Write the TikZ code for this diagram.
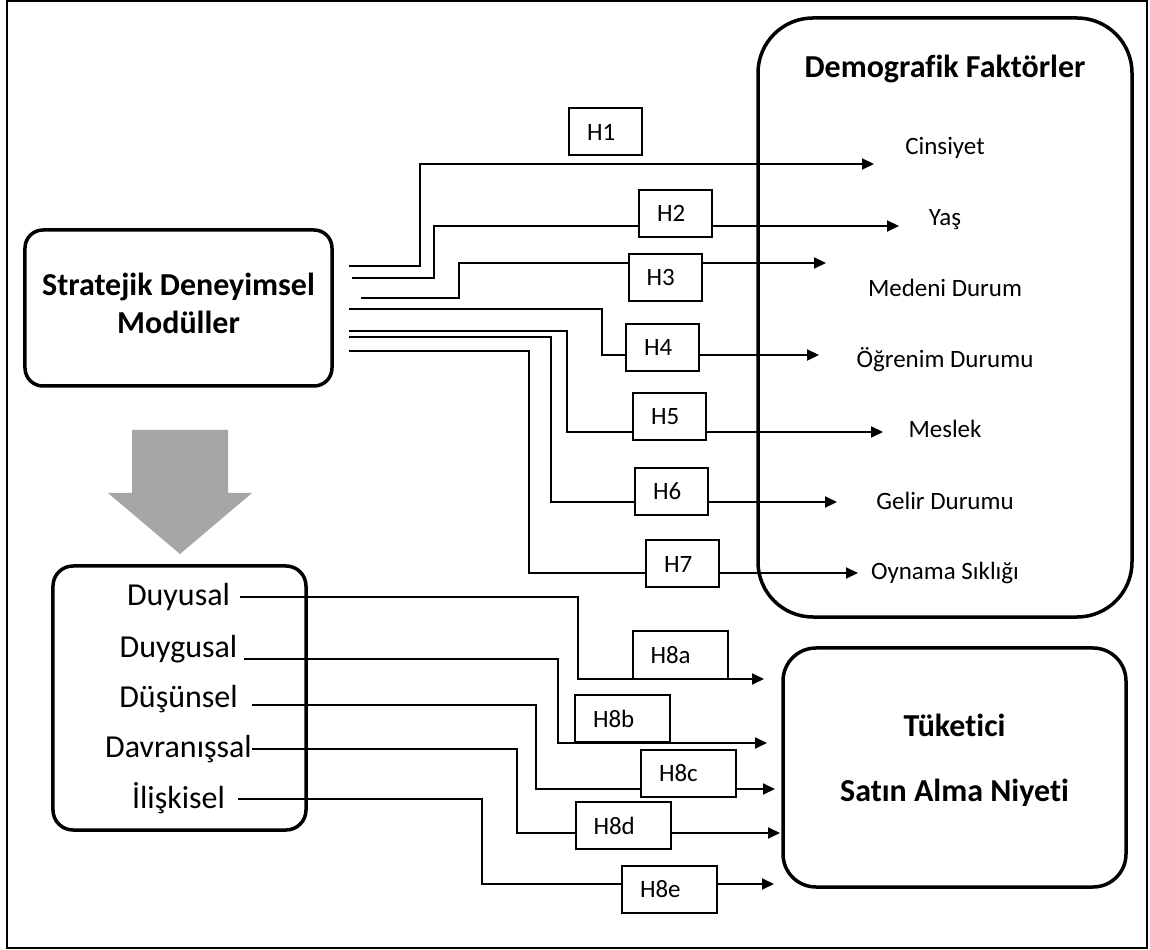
\documentclass[tikz,border=0pt]{standalone}
\usepackage{fontspec}
\setmainfont{Carlito}[Ligatures=NoCommon]
\usetikzlibrary{arrows.meta}

\definecolor{arrowgray}{HTML}{A6A6A6}

\tikzset{
  roundbox/.style={draw,line width=0.7mm,rounded corners=#1,inner sep=0pt},
  hbox/.style={draw,fill=white,line width=0.4mm,minimum height=9.4mm,
    inner xsep=3.6mm,inner ysep=0pt,text width=#1,align=left,
    font=\fontsize{14.2}{17}\selectfont},
  hbox/.default=7.4mm,
  link/.style={line width=0.4mm,-{Triangle[length=2.4mm,width=2.2mm]}},
  title/.style={anchor=base,font=\fontsize{18.2}{22}\selectfont\bfseries},
  module/.style={anchor=base,font=\fontsize{18.2}{22}\selectfont},
  factor/.style={anchor=base,font=\fontsize{14.2}{17}\selectfont},
}

\begin{document}
\begin{tikzpicture}[x=0.2mm,y=-0.2mm,line cap=butt,line join=miter]
  \useasboundingbox (0,0) rectangle (1150,950);
  \draw[line width=0.4mm] (7,1) rectangle (1147,948);

  % boxes
  \node[roundbox=3.6mm,minimum width=61.4mm,minimum height=31.2mm] (sdm) at (178.5,308) {};
  \node[roundbox=11mm,minimum width=74.8mm,minimum height=119.8mm] (demo) at (945,317.5) {};
  \node[roundbox=6.6mm,minimum width=68.6mm,minimum height=47.8mm] (tuk) at (954.5,767.5) {};
  \node[roundbox=4mm,minimum width=50.6mm,minimum height=52.8mm] (mods) at (179.5,698) {};

  \node[title] (sdmA) at (178.5,296) {Stratejik Deneyimsel};
  \node[title] (sdmB) at (178.5,334) {Modüller};
  \node[title] (demoT) at (945,78) {Demografik Faktörler};
  \node[title] (tukA) at (954.5,737) {Tüketici};
  \node[title] (tukB) at (954.5,801) {Satın Alma Niyeti};

  \foreach \n/\y/\t in {1/155/Cinsiyet,2/226/Yaş,3/297/Medeni Durum,4/368/Öğrenim Durumu,
      5/438/Meslek,6/510/Gelir Durumu,7/580/Oynama Sıklığı}
    \node[factor] (f\n) at (945,\y) {\t};

  \foreach \n/\y/\t in {a/606/Duyusal,b/658/Duygusal,c/707/Düşünsel,d/757/Davranışsal,e/808/İlişkisel}
    \node[module] (m\n) at (178.5,\y) {\t};

  % grey arrow
  \fill[arrowgray] (132,430) -- (228,430) -- (228,493) -- (252,493) -- (180,554)
    -- (108,493) -- (132,493) -- cycle;

  % H1 - H7
  \foreach \n/\sx/\sy/\bx/\ey/\ex in {1/349/266/420/164/874,2/352/278/434/226/899,
      3/361/298/459/263/826,4/349/309/602/355/819,5/349/331/567/432/883,
      6/349/337/551/502/837,7/349/351/529/573/858}{
    \coordinate (s\n) at (\sx,\sy);
    \coordinate (e\n) at (\ex,\ey);
    \draw[link] (s\n) -| (\bx,\ey) -- (e\n);
  }
  % H8a - H8e
  \foreach \n/\sx/\sy/\bx/\ey/\ex in {a/240/597/578/679/764,b/244/659/558/743/767,
      c/252/705/536/789/775,d/252/749/517/833/780,e/238/799/482/884/774}{
    \coordinate (s\n) at (\sx,\sy);
    \coordinate (e\n) at (\ex,\ey);
    \draw[link] (s\n) -| (\bx,\ey) -- (e\n);
  }

  \foreach \n/\x/\y in {1/605.5/132,2/675.5/213.5,3/665/277.5,4/662.5/347.5,
      5/669.5/416.5,6/671.5/491.5,7/682.5/564}
    \node[hbox] (h\n) at (\x,\y) {H\n};
  \foreach \n/\x/\y in {a/680/655,b/622.5/718.5,c/688.5/773.5,d/623/825.5,e/669.5/889.5}
    \node[hbox=11.8mm] (h8\n) at (\x,\y) {H8\n};
\end{tikzpicture}
\end{document}
